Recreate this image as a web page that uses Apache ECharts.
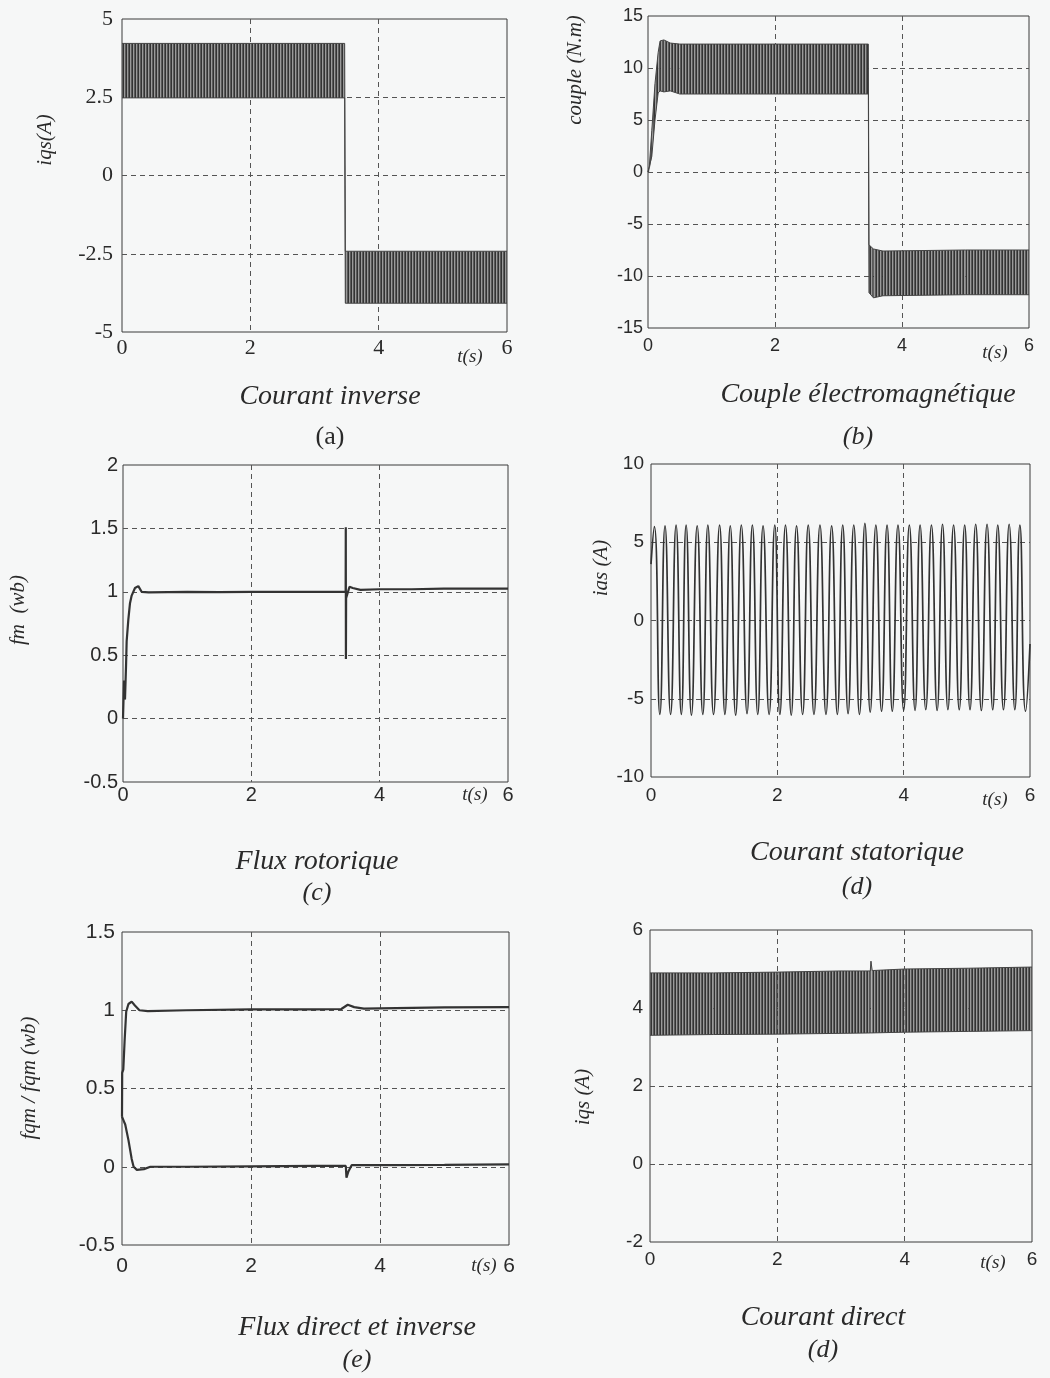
<!DOCTYPE html>
<html>
<head>
<meta charset="utf-8">
<script src="https://cdn.jsdelivr.net/npm/echarts@6.0.0/dist/echarts.min.js"></script>
<style>
  html, body { margin: 0; padding: 0; background: #f6f7f7; }
  #chart { width: 1050px; height: 1378px; }
</style>
</head>
<body>
<div id="chart"></div>
<script>
// axe du temps commun : [min, max, pas]
const xRange = [0, 6, 2];

// (a) courant inverse - enveloppe de la bande
const iqsInvT  = [0, 3.47, 3.48, 6];
const iqsInvUp = [4.22, 4.22, -2.42, -2.42];
const iqsInvLo = [2.48, 2.48, -4.08, -4.08];
const yRangeA = [-5, 5, 2.5];

// (b) couple electromagnetique - enveloppe
const coupleT  = [0, 0.02, 0.06, 0.11, 0.16, 0.19, 0.25, 0.35, 0.5, 2, 3.47, 3.48, 3.55, 3.7, 5, 6];
const coupleUp = [0, 0.5, 4, 8.5, 11.5, 12.6, 12.7, 12.4, 12.3, 12.3, 12.3, -7.0, -7.4, -7.6, -7.5, -7.5];
const coupleLo = [0, 0, 1.5, 5, 7.6, 7.8, 7.7, 7.8, 7.5, 7.5, 7.5, -11.6, -12.1, -11.9, -11.8, -11.8];
const yRangeB = [-15, 15, 5];

// (c) flux rotorique
const fluxT = [0, 0.016, 0.031, 0.047, 0.057, 0.083, 0.109, 0.135, 0.187, 0.239, 0.29, 0.4, 1.0, 1.5, 2.0, 2.5, 3.0,
  3.47, 3.472, 3.474, 3.477, 3.50, 3.53, 3.58, 3.7, 4.0, 4.5, 5.0, 5.5, 6.0];
const fluxV = [0, 0.30, 0.15, 0.41, 0.61, 0.78, 0.91, 0.97, 1.03, 1.045, 1.0, 0.995, 1.0, 0.998, 1.0, 1.0, 1.0,
  1.0, 1.51, 0.47, 0.95, 0.96, 1.04, 1.03, 1.015, 1.02, 1.02, 1.025, 1.025, 1.025];
const yRangeC = [-0.5, 2, 0.5];

// (d) courant statorique - crêtes
const iasTopT = [0.053, 0.222, 0.397, 0.556, 0.731, 0.900, 1.086, 1.255, 1.430, 1.605, 1.774, 1.960, 2.129, 2.304,
  2.489, 2.675, 2.860, 3.035, 3.21, 3.386, 3.56, 3.737, 3.91, 4.09, 4.26, 4.44, 4.615, 4.79, 4.966, 5.14, 5.32, 5.49, 5.67, 5.84];
const iasTopV = [6.0, 6.05, 6.1, 6.1, 6.05, 6.1, 6.1, 6.05, 6.1, 6.1, 6.05, 6.1, 6.1, 6.05, 6.1, 6.1, 6.05, 6.1,
  6.1, 6.2, 6.1, 6.1, 6.1, 6.1, 6.1, 6.1, 6.15, 6.1, 6.1, 6.15, 6.15, 6.1, 6.15, 6.1];
const iasBotT = [0.14, 0.31, 0.48, 0.64, 0.82, 0.99, 1.17, 1.34, 1.52, 1.69, 1.87, 2.04, 2.22, 2.40, 2.58, 2.77,
  2.95, 3.12, 3.30, 3.47, 3.65, 3.82, 4.00, 4.18, 4.35, 4.53, 4.70, 4.88, 5.05, 5.23, 5.41, 5.58, 5.76, 5.93];
const iasBotV = [-6.0, -6.0, -6.0, -6.05, -6.0, -6.0, -6.0, -6.05, -5.95, -6.0, -6.0, -6.0, -6.05, -6.0, -6.0, -6.0,
  -6.0, -5.95, -6.0, -5.85, -5.8, -5.8, -5.75, -5.75, -5.7, -5.75, -5.7, -5.7, -5.7, -5.75, -5.7, -5.7, -5.7, -5.8];
const iasStart = [0, 3.6];
const iasEnd = [6, -1.5];
const yRangeD = [-10, 10, 5];

// (e) flux direct et inverse
const fluxDT = [0, 0.003, 0.02, 0.04, 0.065, 0.1, 0.15, 0.2, 0.27, 0.4, 1, 2, 3, 3.4, 3.5, 3.6, 3.75, 4, 5, 6];
const fluxDV = [0.32, 0.6, 0.62, 0.8, 0.99, 1.04, 1.055, 1.03, 1.0, 0.995, 1.0, 1.005, 1.005, 1.008, 1.035, 1.02, 1.01, 1.012, 1.018, 1.02];
const fluxIT = [0, 0.02, 0.05, 0.1, 0.15, 0.18, 0.23, 0.34, 0.44, 1, 2, 3, 3.47, 3.48, 3.51, 3.56, 3.7, 4, 5, 6];
const fluxIV = [0.32, 0.3, 0.27, 0.17, 0.05, 0.0, -0.02, -0.015, 0.0, 0.0, 0.003, 0.005, 0.005, -0.07, -0.03, 0.01, 0.01, 0.01, 0.012, 0.015];
const yRangeE = [-0.5, 1.5, 0.5];

// (f) courant direct - enveloppe
const iqsDirT  = [0, 1, 2, 3, 3.46, 3.47, 3.48, 3.49, 4, 5, 6];
const iqsDirUp = [4.9, 4.9, 4.92, 4.95, 4.95, 5.2, 5.2, 4.96, 5.0, 5.02, 5.05];
const iqsDirLo = [3.3, 3.32, 3.33, 3.35, 3.36, 3.36, 3.36, 3.36, 3.38, 3.4, 3.42];
const yRangeF = [-2, 6, 2];

const ink = '#2a2a2a';
const sans = 'Liberation Sans, Arial, sans-serif';
const serif = 'Liberation Serif, Times New Roman, serif';

// motif hachuré pour les bandes denses
function makeHatch() {
    let c = document.createElement('canvas');
    c.width = 3;
    c.height = 4;
    let g = c.getContext('2d');
    g.fillStyle = '#9a9a9a';
    g.fillRect(0, 0, 3, 4);
    g.fillStyle = '#333333';
    g.fillRect(0, 0, 1, 4);
    g.fillStyle = '#5a5a5a';
    g.fillRect(2, 0, 1, 4);
    return c;
}
const hatch = makeHatch();

function pairs(t, v) {
    return t.map(function (x, i) { return [x, v[i]]; });
}

let panels = [
    { left: 122, top: 19, width: 385, height: 313, y: yRangeA, font: serif, size: 22, ym: 9, xm: 5 },
    { left: 648, top: 16, width: 381, height: 312, y: yRangeB, font: sans, size: 18, ym: 5, xm: 9 },
    { left: 123, top: 465, width: 385, height: 317, y: yRangeC, font: sans, size: 20, ym: 5, xm: 3 },
    { left: 651, top: 464, width: 379, height: 313, y: yRangeD, font: sans, size: 19, ym: 7, xm: 9 },
    { left: 122, top: 932, width: 387, height: 313, y: yRangeE, font: sans, size: 21, ym: 7, xm: 11 },
    { left: 650, top: 930, width: 382, height: 312, y: yRangeF, font: sans, size: 19, ym: 7, xm: 8 }
];

let grids = [], xAxes = [], yAxes = [];
panels.forEach(function (p, i) {
    grids.push({
        left: p.left, top: p.top, width: p.width, height: p.height,
        show: true, borderColor: '#3a3a3a', borderWidth: 1, backgroundColor: 'transparent',
        outerBoundsMode: 'none'
    });
    let split = {
        show: true, showMinLine: false, showMaxLine: false,
        lineStyle: { color: '#555', width: 1, type: [5, 4] }
    };
    xAxes.push({
        type: 'value', gridIndex: i, min: xRange[0], max: xRange[1], interval: xRange[2],
        axisLine: { show: false }, axisTick: { show: false }, splitLine: split,
        axisLabel: { color: ink, fontFamily: p.font, fontSize: p.size, margin: p.xm }
    });
    yAxes.push({
        type: 'value', gridIndex: i, min: p.y[0], max: p.y[1], interval: p.y[2],
        axisLine: { show: false }, axisTick: { show: false }, splitLine: split,
        axisLabel: { color: ink, fontFamily: p.font, fontSize: p.size, margin: p.ym }
    });
});

function edge(gi, t, v) {
    return {
        type: 'line', xAxisIndex: gi, yAxisIndex: gi, symbol: 'none', silent: true, z: 3,
        data: pairs(t, v), lineStyle: { color: '#444', width: 1 }
    };
}

// bande entre deux enveloppes : un quadrilatère par intervalle, placé avec api.coord
function band(gi, t, lo, up) {
    let rows = t.map(function (x, i) { return [x, lo[i], up[i]]; });
    return [
        {
            type: 'custom', xAxisIndex: gi, yAxisIndex: gi, silent: true, clip: true,
            encode: { x: 0, y: [1, 2] },
            data: rows,
            renderItem: function (params, api) {
                let i = params.dataIndex;
                if (i >= rows.length - 1) {
                    return null;
                }
                let a = rows[i], b = rows[i + 1];
                let pts = [
                    api.coord([a[0], a[2]]), api.coord([b[0], b[2]]),
                    api.coord([b[0], b[1]]), api.coord([a[0], a[1]])
                ];
                return {
                    type: 'polygon',
                    shape: { points: pts },
                    style: { fill: { image: hatch, repeat: 'repeat' }, stroke: null }
                };
            }
        },
        edge(gi, t, up),
        edge(gi, t, lo)
    ];
}

function trace(gi, t, v, width) {
    return {
        type: 'line', xAxisIndex: gi, yAxisIndex: gi, symbol: 'none', silent: true,
        data: pairs(t, v), lineStyle: { color: '#333', width: width }
    };
}

let iasPts = [iasStart].concat(pairs(iasTopT, iasTopV), pairs(iasBotT, iasBotV));
iasPts.sort(function (a, b) { return a[0] - b[0]; });
iasPts.push(iasEnd);

let series = [].concat(
    band(0, iqsInvT, iqsInvLo, iqsInvUp),
    band(1, coupleT, coupleLo, coupleUp),
    [trace(2, fluxT, fluxV, 2.2)],
    [{
        type: 'line', xAxisIndex: 3, yAxisIndex: 3, symbol: 'none', silent: true,
        data: iasPts, smooth: 0.55, lineStyle: { color: '#333', width: 1.7 }
    }],
    [trace(4, fluxDT, fluxDV, 2.2), trace(4, fluxIT, fluxIV, 2.2)],
    band(5, iqsDirT, iqsDirLo, iqsDirUp)
);

function txt(x, y, s, font, rot) {
    return {
        type: 'text', x: x, y: y, rotation: rot || 0, silent: true,
        style: {
            text: s, font: font, fill: ink,
            textAlign: 'center', textVerticalAlign: 'middle', align: 'center', verticalAlign: 'middle'
        }
    };
}
const capFont = 'italic 28px ' + serif;
const tsFont = 'italic 19px ' + serif;
const nameFont = 'italic 21px ' + serif;
const R = Math.PI / 2;

let graphics = [
    // noms des axes y
    txt(45, 140, 'iqs(A)', nameFont, R),
    txt(575, 70, 'couple (N.m)', nameFont, R),
    txt(18, 610, 'fm  (wb)', nameFont, R),
    txt(601, 568, 'ias (A)', nameFont, R),
    txt(29, 1078, 'fqm / fqm (wb)', nameFont, R),
    txt(583, 1097, 'iqs (A)', nameFont, R),
    // t(s)
    txt(470, 357, 't(s)', tsFont),
    txt(995, 353, 't(s)', tsFont),
    txt(475, 795, 't(s)', tsFont),
    txt(995, 800, 't(s)', tsFont),
    txt(484, 1266, 't(s)', tsFont),
    txt(993, 1263, 't(s)', tsFont),
    // légendes
    txt(330, 397, 'Courant inverse', capFont),
    txt(330, 437, '(a)', '26px ' + serif),
    txt(868, 395, 'Couple électromagnétique', capFont),
    txt(858, 437, '(b)', 'italic 26px ' + serif),
    txt(317, 862, 'Flux rotorique', capFont),
    txt(317, 893, '(c)', 'italic 26px ' + serif),
    txt(857, 853, 'Courant statorique', capFont),
    txt(857, 887, '(d)', 'italic 26px ' + serif),
    txt(357, 1328, 'Flux direct et inverse', capFont),
    txt(357, 1360, '(e)', 'italic 26px ' + serif),
    txt(823, 1318, 'Courant direct', capFont),
    txt(823, 1350, '(d)', 'italic 26px ' + serif)
];

let chart = echarts.init(document.getElementById('chart'), null, { renderer: 'canvas' });
chart.setOption({
    backgroundColor: '#f6f7f7',
    animation: false,
    grid: grids,
    xAxis: xAxes,
    yAxis: yAxes,
    series: series,
    graphic: graphics
});
</script>
</body>
</html>
